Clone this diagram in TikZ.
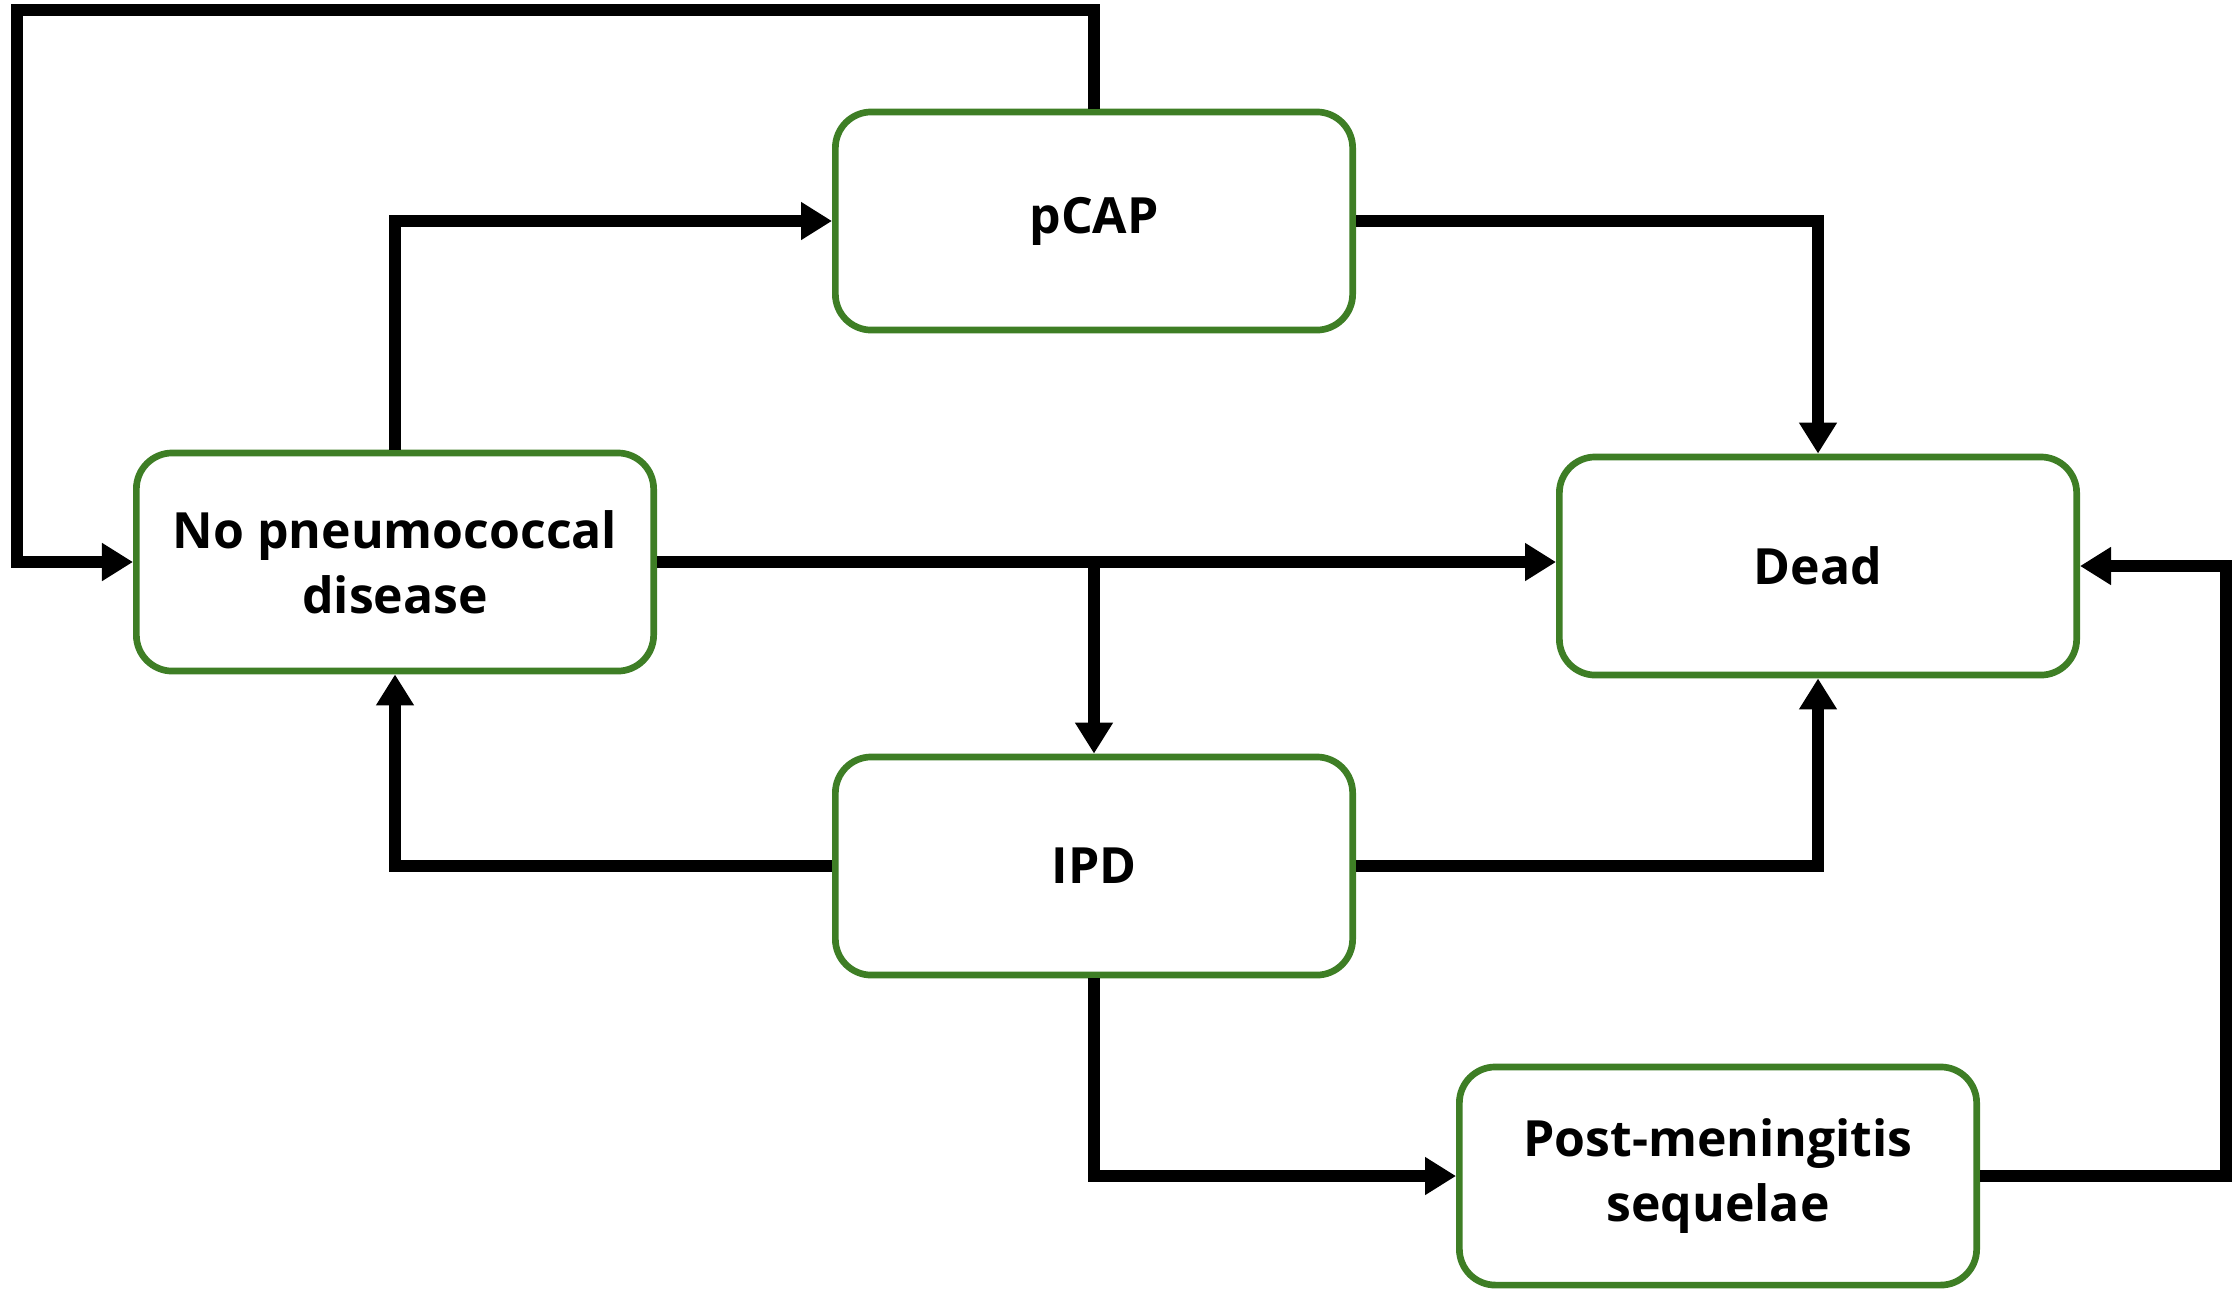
\documentclass[tikz,border=0pt]{standalone}
\usepackage{fontspec}
\setmainfont{Open Sans}
\usetikzlibrary{positioning,arrows.meta,calc}
\definecolor{stategreen}{RGB}{62,126,37}
\tikzset{every picture/.style={>={Triangle[length=3.1mm,width=3.6mm]},line width=3.3pt}}
\tikzset{state/.style={draw=stategreen,line width=1.9pt,rounded corners=3.6mm,fill=white,
    minimum width=5.17cm,minimum height=2.18cm,align=center,
    font=\bfseries\fontsize{14.2}{18.6}\selectfont}}

\begin{document}
\begin{tikzpicture}[x=0.01cm,y=-0.01cm]
  \useasboundingbox (0,0) rectangle (2234,1290);
  % states
  \node[state] (pcap) at (1094,221) {pCAP};
  \node[state] (nopd) at (395,562) {No pneumococcal\\disease};
  \node[state] (dead) at (1818,566) {Dead};
  \node[state] (ipd) at (1094,866) {IPD};
  \node[state] (pms) at (1718,1176) {Post-meningitis\\sequelae};
  \coordinate (topleft) at (17,10);
  \coordinate (farright) at (2226,0);
  \coordinate (split) at (nopd.east -| ipd.north);
  % transitions
  \draw[->] (pcap.north) |- (topleft) |- (nopd.west);
  \draw[->] (nopd.north) |- (pcap.west);
  \draw[->] (pcap.east) -| (dead.north);
  \draw[->] (nopd.east) -- (nopd.east -| dead.west);
  \draw[->] (split) -- (ipd.north);
  \draw[->] (ipd.west) -| (nopd.south);
  \draw[->] (ipd.east) -| (dead.south);
  \draw[->] (ipd.south) |- (pms.west);
  \draw[->] (pms.east) -| (farright |- dead.east) -- (dead.east);
\end{tikzpicture}
\end{document}
